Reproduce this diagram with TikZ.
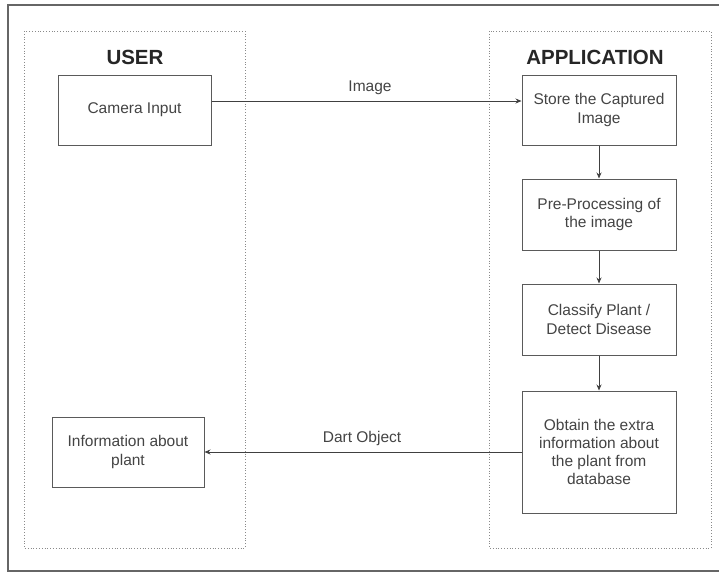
\documentclass[tikz,border=0pt]{standalone}
\usepackage{fontspec}
\setmainfont{Liberation Sans}
\usetikzlibrary{arrows.meta}
\definecolor{txt}{HTML}{444444}
\definecolor{edge}{HTML}{5A5A5A}
\definecolor{lane}{HTML}{8A8A8A}
\tikzset{
  procbox/.style={draw=edge, line width=1pt, align=center, text=txt,
    font=\fontsize{15.5}{18.3}\selectfont, inner sep=2pt},
  lanebox/.style={draw=lane, line width=0.8pt, dotted},
  title/.style={font=\fontsize{20.5}{24}\selectfont\bfseries, text=black!85},
  lbl/.style={font=\fontsize{15.5}{18}\selectfont, text=txt},
  conn/.style={draw=black!75, line width=0.8pt, -{Stealth[length=6pt,width=5pt]}},
}
\begin{document}
\begin{tikzpicture}[x=1pt,y=-1pt]
\useasboundingbox (0,0) rectangle (719,573);
\fill[white] (0,0) rectangle (719,573);
% outer frame
\draw[black!60, line width=1.2pt] (721,5) -- (8,5) -- (8,571) -- (721,571);
% swimlanes
\draw[lanebox] (24,31) rectangle (245,548);
\draw[lanebox] (489,31) rectangle (711,548);
\node[title] (tuser) at (135,57) {USER};
\node[title] (tapp) at (595,57) {APPLICATION};
% boxes
\node[procbox, minimum width=153pt, minimum height=70pt] (cam) at (134.5,110) {Camera Input};
\node[procbox, minimum width=154pt, minimum height=70pt] (store) at (599,110) {Store the Captured\\Image};
\node[procbox, minimum width=154pt, minimum height=71pt] (pre) at (599,214.5) {Pre-Processing of\\the image};
\node[procbox, minimum width=154pt, minimum height=71pt] (cls) at (599,319.5) {Classify Plant /\\Detect Disease};
\node[procbox, minimum width=154pt, minimum height=122pt] (obt) at (599,452) {Obtain the extra\\information about\\the plant from\\database};
\node[procbox, minimum width=152pt, minimum height=70pt] (info) at (128,452) {Information about\\plant};
% connectors
\coordinate (r1) at (0,101);
\draw[conn] (cam.east |- r1) -- (store.west |- r1);
\draw[conn] (store) -- (pre);
\draw[conn] (pre) -- (cls);
\draw[conn] (cls) -- (obt);
\draw[conn] (obt.west) -- (info.east);
% labels
\node[lbl] (limg) at (370,88) {Image};
\node[lbl] (ldart) at (362,438) {Dart Object};
\end{tikzpicture}
\end{document}
